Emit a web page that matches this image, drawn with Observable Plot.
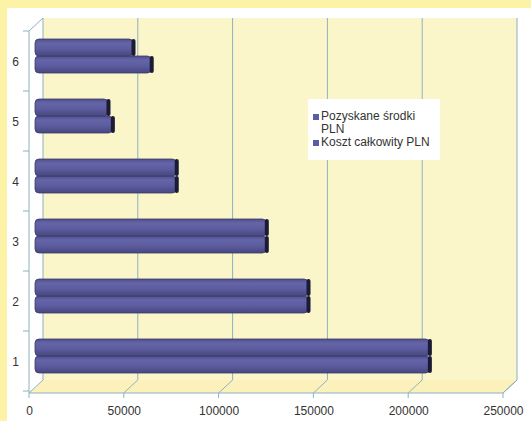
<!DOCTYPE html>
<html>
<head>
<meta charset="utf-8">
<script src="https://cdn.jsdelivr.net/npm/d3@7"></script>
<script src="https://cdn.jsdelivr.net/npm/@observablehq/plot@0.6"></script>
<style>
  html, body { margin: 0; padding: 0; background: #ffffff; }
  #wrap { position: relative; width: 531px; height: 421px; background: #fdf3a6; overflow: hidden; }
  #chart { position: absolute; left: 7px; top: 8px; width: 524px; height: 413px; background: #ffffff; }
  #chart svg { display: block; background: #ffffff; }
  #legend {
    position: absolute; left: 308px; top: 99px; width: 132px; height: 61px;
    background: #ffffff; font-family: "Liberation Sans", Arial, sans-serif;
    font-size: 12px; line-height: 13px; color: #333; box-sizing: border-box; padding: 11px 0 0 5px;
  }
  #legend .row { display: flex; align-items: flex-start; }
  #legend .sw { width: 6px; height: 6px; background: #5c5ca6; margin: 4px 2px 0 0; flex: none; }
</style>
</head>
<body>
<svg width="0" height="0" style="position:absolute">
  <defs>
    <linearGradient id="cyl" x1="0" y1="0" x2="0" y2="1">
      <stop offset="0" stop-color="#50508f"/>
      <stop offset="0.25" stop-color="#6464a8"/>
      <stop offset="0.6" stop-color="#5b5b9e"/>
      <stop offset="1" stop-color="#47477f"/>
    </linearGradient>
  </defs>
</svg>
<div id="wrap">
  <div id="chart"></div>
  <div id="legend"></div>
</div>
<script>
// Project numbers (1–6) and their amounts in PLN
const categories = ["1", "2", "3", "4", "5", "6"];
const pozyskaneSrodki = [208000, 144000, 122000, 74500, 38500, 51700];
const kosztCalkowity = [208000, 144000, 122000, 74500, 40800, 61300];
const xTicks = [0, 50000, 100000, 150000, 200000, 250000];
const seriesNames = ["Pozyskane środki PLN", "Koszt całkowity PLN"];

const rowsP = categories.map((c, i) => ({cat: c, value: pozyskaneSrodki[i]}));
const rowsK = categories.map((c, i) => ({cat: c, value: kosztCalkowity[i]}));

// depth of the 3D box and of the bar plane inside it
const DX = 14, DY = -13;
const BX = 6, BY = -6;
const gridColor = "#8db1c0";

// back wall, floor, gridlines and the front axis of the 3D box
function box3d(index, scales, values, dimensions) {
  const {width, height, marginLeft, marginRight, marginTop, marginBottom} = dimensions;
  const x = scales.x, y = scales.y;
  const x0 = x(0), x1 = x(xTicks[xTicks.length - 1]);
  const top = marginTop, bottom = height - marginBottom;
  const g = d3.create("svg:g");
  // back wall
  g.append("rect").attr("x", x0 + DX).attr("y", top + DY)
    .attr("width", x1 - x0).attr("height", bottom - top).attr("fill", "#fbf6c9");
  // floor
  g.append("path")
    .attr("d", `M${x0},${bottom}L${x1},${bottom}L${x1 + DX},${bottom + DY}L${x0 + DX},${bottom + DY}Z`)
    .attr("fill", "#fcf1bb");
  // gridlines on back wall + floor diagonals + ticks
  for (const t of xTicks) {
    const xt = x(t);
    g.append("line").attr("x1", xt + DX).attr("x2", xt + DX)
      .attr("y1", top + DY).attr("y2", bottom + DY).attr("stroke", gridColor);
    g.append("line").attr("x1", xt + DX).attr("y1", bottom + DY)
      .attr("x2", xt).attr("y2", bottom).attr("stroke", gridColor);
    g.append("line").attr("x1", xt).attr("x2", xt)
      .attr("y1", bottom).attr("y2", bottom + 5).attr("stroke", gridColor);
  }
  // floor edges
  g.append("line").attr("x1", x0).attr("x2", x1).attr("y1", bottom).attr("y2", bottom)
    .attr("stroke", gridColor);
  g.append("line").attr("x1", x1).attr("y1", bottom).attr("x2", x1 + DX).attr("y2", bottom + DY)
    .attr("stroke", gridColor);
  // front vertical axis with top diagonal
  g.append("line").attr("x1", x0).attr("x2", x0).attr("y1", top).attr("y2", bottom)
    .attr("stroke", gridColor);
  g.append("line").attr("x1", x0).attr("y1", top).attr("x2", x0 + DX).attr("y2", top + DY)
    .attr("stroke", gridColor);
  // category boundary ticks
  const step = y(categories[0]) - y(categories[1]);
  for (let i = 0; i <= categories.length; i++) {
    const yy = top + i * Math.abs(step);
    g.append("line").attr("x1", x0 - 6).attr("x2", x0).attr("y1", yy).attr("y2", yy)
      .attr("stroke", gridColor);
  }
  return g.node();
}

const half = 17;
const barStyle = {fill: "url(#cyl)", stroke: "#3a3a66", strokeWidth: 0.8, rx: 4};
const capStyle = {stroke: "#1b1b36", strokeWidth: 4, strokeLinecap: "round"};

const chart = Plot.plot({
  width: 524,
  height: 413,
  marginLeft: 22,
  marginRight: 28,
  marginTop: 23,
  marginBottom: 28,
  style: {fontFamily: "'Liberation Sans', Arial, sans-serif", fontSize: "12px", background: "#ffffff"},
  x: {domain: [0, 250000], axis: null},
  y: {domain: categories.slice().reverse(), paddingInner: 0.436, paddingOuter: 0.218, axis: null},
  marks: [
    box3d,
    Plot.barX(rowsK, {x: "value", y: "cat", dx: BX, dy: BY, insetTop: half, ...barStyle}),
    Plot.barX(rowsP, {x: "value", y: "cat", dx: BX, dy: BY, insetBottom: half, ...barStyle}),
    Plot.tickX(rowsK, {x: "value", y: "cat", dx: BX, dy: BY, insetTop: half + 2, insetBottom: 2, ...capStyle}),
    Plot.tickX(rowsP, {x: "value", y: "cat", dx: BX, dy: BY, insetTop: 2, insetBottom: half + 2, ...capStyle}),
    Plot.text(xTicks, {x: d => d, frameAnchor: "bottom", dy: 18, lineAnchor: "middle",
      text: d => String(d), fill: "#333", fontSize: 12}),
    Plot.text(categories, {y: d => d, frameAnchor: "left", dx: -14, textAnchor: "middle",
      text: d => d, fill: "#333", fontSize: 12})
  ]
});
document.getElementById("chart").appendChild(chart);

// legend
const legend = document.getElementById("legend");
legend.innerHTML = seriesNames.map(n =>
  `<div class="row"><span class="sw"></span><span>${n}</span></div>`).join("");
legend.firstChild.lastChild.style.width = "100px";
</script>
</body>
</html>
